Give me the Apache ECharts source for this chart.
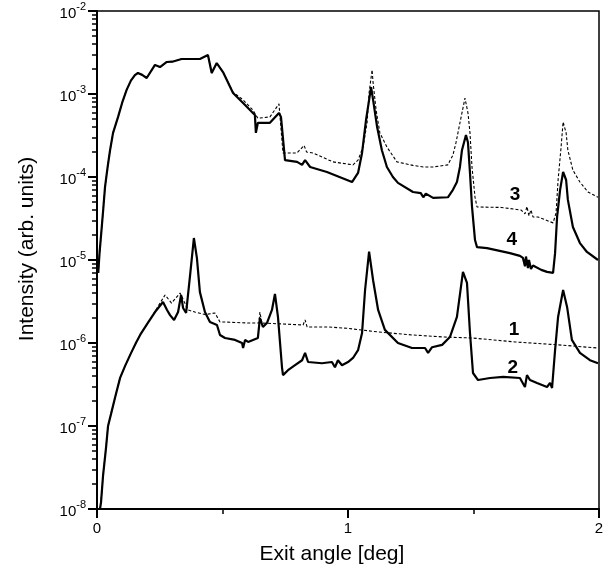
<!DOCTYPE html>
<html>
<head>
<meta charset="utf-8">
<script src="https://cdn.jsdelivr.net/npm/echarts@6/dist/echarts.min.js"></script>
<style>
  html, body { margin: 0; padding: 0; background: #fff; }
  #chart { width: 613px; height: 572px; }
</style>
</head>
<body>
<div id="chart"></div>
<script>
// curves: [exit angle (deg), intensity]
const curve1 = [
  [0.012, 1.0e-8], [0.016, 1.2e-8], [0.024, 2.5e-8], [0.036, 5.5e-8], [0.044, 1.0e-7],
  [0.056, 1.4e-7], [0.072, 2.2e-7], [0.092, 3.8e-7], [0.112, 5.3e-7], [0.135, 7.5e-7],
  [0.155, 1.0e-6], [0.175, 1.3e-6], [0.2, 1.7e-6], [0.231, 2.4e-6], [0.271, 3.79e-6],
  [0.297, 3.03e-6], [0.331, 4.0e-6], [0.363, 2.5e-6], [0.39, 2.36e-6], [0.43, 2.2e-6],
  [0.47, 2.3e-6], [0.49, 1.79e-6], [0.51, 1.79e-6], [0.602, 1.74e-6], [0.645, 1.74e-6],
  [0.649, 2.36e-6], [0.657, 1.74e-6], [0.821, 1.65e-6], [0.829, 1.9e-6], [0.837, 1.56e-6],
  [0.92, 1.56e-6], [1.0, 1.5e-6], [1.12, 1.36e-6], [1.255, 1.25e-6], [1.386, 1.18e-6],
  [1.494, 1.15e-6], [1.665, 1.03e-6], [1.837, 9.5e-7], [1.996, 8.7e-7]
];

const curve2 = [
  [0.012, 1.0e-8], [0.016, 1.2e-8], [0.024, 2.5e-8], [0.036, 5.5e-8], [0.044, 1.0e-7],
  [0.056, 1.4e-7], [0.072, 2.2e-7], [0.092, 3.8e-7], [0.112, 5.3e-7], [0.135, 7.5e-7],
  [0.155, 1.0e-6], [0.175, 1.3e-6], [0.2, 1.7e-6], [0.231, 2.36e-6], [0.263, 3.12e-6],
  [0.279, 2.5e-6], [0.291, 2.17e-6], [0.307, 1.89e-6], [0.323, 2.36e-6], [0.335, 3.79e-6],
  [0.343, 2.64e-6], [0.355, 2.3e-6], [0.371, 6.6e-6], [0.386, 1.84e-5], [0.398, 1.06e-5],
  [0.41, 4.1e-6], [0.43, 2.36e-6], [0.45, 1.79e-6], [0.478, 1.65e-6], [0.49, 1.25e-6],
  [0.51, 1.15e-6], [0.55, 1.09e-6], [0.578, 1.0e-6], [0.582, 8.7e-7], [0.59, 1.09e-6],
  [0.602, 1.03e-6], [0.641, 1.15e-6], [0.649, 2.0e-6], [0.661, 1.56e-6], [0.677, 1.74e-6],
  [0.697, 2.5e-6], [0.709, 3.9e-6], [0.721, 2.06e-6], [0.737, 5.1e-7], [0.741, 4.1e-7],
  [0.761, 4.7e-7], [0.789, 5.4e-7], [0.817, 6.2e-7], [0.829, 7.6e-7], [0.841, 5.9e-7],
  [0.896, 5.7e-7], [0.936, 5.9e-7], [0.948, 5.1e-7], [0.96, 6.2e-7], [0.976, 5.4e-7],
  [1.0, 5.9e-7], [1.02, 6.6e-7], [1.04, 8.2e-7], [1.056, 1.32e-6], [1.068, 4.35e-6],
  [1.084, 1.26e-5], [1.1, 5.7e-6], [1.12, 2.5e-6], [1.147, 1.44e-6], [1.199, 1.0e-6],
  [1.255, 8.7e-7], [1.307, 8.7e-7], [1.319, 7.6e-7], [1.335, 8.9e-7], [1.375, 9.5e-7],
  [1.406, 1.18e-6], [1.434, 2.06e-6], [1.458, 7.2e-6], [1.474, 5.3e-6], [1.486, 1.32e-6],
  [1.498, 4.35e-7], [1.518, 3.58e-7], [1.566, 3.79e-7], [1.618, 3.9e-7], [1.685, 3.79e-7],
  [1.705, 2.95e-7], [1.713, 4.1e-7], [1.725, 3.58e-7], [1.753, 3.3e-7], [1.793, 2.95e-7],
  [1.805, 3.3e-7], [1.813, 2.87e-7], [1.825, 8.2e-7], [1.837, 2.06e-6], [1.857, 4.35e-6],
  [1.873, 2.7e-6], [1.892, 1.09e-6], [1.924, 7.6e-7], [1.964, 6.2e-7], [1.996, 5.7e-7]
];

const curve3 = [
  [0.005, 7.0e-6], [0.01, 1.2e-5], [0.019, 2.5e-5], [0.026, 4.5e-5], [0.032, 7.6e-5],
  [0.042, 1.3e-4], [0.052, 2.1e-4], [0.064, 3.4e-4], [0.084, 5.3e-4], [0.1, 7.8e-4],
  [0.118, 1.12e-3], [0.135, 1.45e-3], [0.151, 1.69e-3], [0.163, 1.79e-3], [0.18, 1.7e-3],
  [0.198, 1.56e-3], [0.231, 2.24e-3], [0.251, 2.11e-3], [0.278, 2.43e-3], [0.3, 2.45e-3],
  [0.337, 2.64e-3], [0.41, 2.64e-3], [0.442, 2.95e-3], [0.457, 1.79e-3], [0.477, 2.36e-3],
  [0.502, 1.84e-3], [0.542, 1.05e-3], [0.582, 8.5e-4], [0.621, 6.4e-4], [0.641, 5.1e-4],
  [0.689, 5.3e-4], [0.725, 7.6e-4], [0.741, 1.95e-4], [0.797, 1.95e-4], [0.825, 2.4e-4],
  [0.835, 2.0e-4], [0.86, 1.95e-4], [0.94, 1.52e-4], [1.02, 1.4e-4], [1.04, 1.6e-4],
  [1.06, 2.3e-4], [1.076, 4.5e-4], [1.084, 1.03e-3], [1.096, 1.95e-3], [1.1, 1.36e-3],
  [1.112, 6.4e-4], [1.127, 3.4e-4], [1.155, 2.3e-4], [1.195, 1.52e-4], [1.259, 1.38e-4],
  [1.3, 1.32e-4], [1.339, 1.32e-4], [1.398, 1.4e-4], [1.418, 1.84e-4], [1.43, 2.57e-4],
  [1.446, 4.5e-4], [1.466, 8.9e-4], [1.478, 5.9e-4], [1.486, 3.4e-4], [1.494, 1.32e-4],
  [1.506, 5.7e-5], [1.514, 4.35e-5], [1.61, 4.3e-5], [1.69, 4.0e-5], [1.705, 3.6e-5],
  [1.713, 4.4e-5], [1.721, 3.4e-5], [1.729, 4.0e-5], [1.737, 3.3e-5], [1.757, 3.3e-5],
  [1.817, 2.8e-5], [1.829, 3.7e-5], [1.837, 9.2e-5], [1.849, 2.3e-4], [1.857, 4.6e-4],
  [1.869, 3.4e-4], [1.876, 2.1e-4], [1.896, 1.21e-4], [1.924, 8.7e-5], [1.956, 6.6e-5],
  [1.996, 5.7e-5]
];

const curve4 = [
  [0.005, 7.0e-6], [0.01, 1.2e-5], [0.019, 2.5e-5], [0.026, 4.5e-5], [0.032, 7.6e-5],
  [0.042, 1.3e-4], [0.052, 2.1e-4], [0.064, 3.4e-4], [0.084, 5.3e-4], [0.1, 7.8e-4],
  [0.118, 1.12e-3], [0.135, 1.45e-3], [0.151, 1.69e-3], [0.163, 1.79e-3], [0.18, 1.7e-3],
  [0.198, 1.56e-3], [0.231, 2.24e-3], [0.251, 2.11e-3], [0.278, 2.43e-3], [0.3, 2.45e-3],
  [0.337, 2.64e-3], [0.41, 2.64e-3], [0.442, 2.95e-3], [0.457, 1.79e-3], [0.477, 2.36e-3],
  [0.502, 1.84e-3], [0.542, 1.03e-3], [0.582, 7.8e-4], [0.629, 5.6e-4], [0.633, 3.4e-4],
  [0.641, 4.5e-4], [0.689, 4.5e-4], [0.725, 5.9e-4], [0.733, 5.3e-4], [0.749, 1.6e-4],
  [0.797, 1.52e-4], [0.817, 1.4e-4], [0.829, 1.6e-4], [0.849, 1.32e-4], [0.916, 1.15e-4],
  [0.996, 9.2e-5], [1.016, 8.7e-5], [1.04, 1.12e-4], [1.056, 1.95e-4], [1.072, 4.9e-4],
  [1.092, 1.21e-3], [1.1, 8.5e-4], [1.116, 4.0e-4], [1.135, 2.1e-4], [1.155, 1.32e-4],
  [1.179, 1.0e-4], [1.199, 8.5e-5], [1.259, 6.6e-5], [1.29, 6.4e-5], [1.3, 5.7e-5],
  [1.31, 6.3e-5], [1.339, 5.6e-5], [1.398, 5.7e-5], [1.418, 7.0e-5], [1.434, 8.7e-5],
  [1.446, 1.32e-4], [1.454, 2.1e-4], [1.47, 3.2e-4], [1.478, 2.6e-4], [1.486, 1.12e-4],
  [1.494, 4.4e-5], [1.506, 1.74e-5], [1.514, 1.43e-5], [1.554, 1.39e-5], [1.645, 1.21e-5],
  [1.685, 1.12e-5], [1.697, 1.06e-5], [1.705, 8.4e-6], [1.709, 1.1e-5], [1.717, 8.0e-6],
  [1.721, 1.0e-5], [1.729, 7.8e-6], [1.737, 8.6e-6], [1.77, 7.6e-6], [1.793, 7.2e-6],
  [1.817, 7.0e-6], [1.825, 1.21e-5], [1.833, 3.3e-5], [1.845, 7.0e-5], [1.857, 1.15e-4],
  [1.869, 9.2e-5], [1.876, 5.3e-5], [1.896, 2.5e-5], [1.924, 1.6e-5], [1.952, 1.25e-5],
  [1.996, 1.0e-5]
];

// curve number annotations [x, y, text]
const curveLabels = [
  [1.661, 1.44e-6, '1'],
  [1.657, 5.1e-7, '2'],
  [1.665, 6.1e-5, '3'],
  [1.653, 1.74e-5, '4']
];

// log axis minor ticks: 2..9 within each decade (as exponents for the helper axis)
const decades = [-8, -7, -6, -5, -4, -3];
const minorSteps = [2, 3, 4, 5, 6, 7, 8, 9];
const minorTickExps = [];
decades.forEach(d => minorSteps.forEach(m => minorTickExps.push(d + Math.log10(m))));

const FONT = 'Liberation Sans, Arial, sans-serif';

const chart = echarts.init(document.getElementById('chart'), null, { renderer: 'canvas' });

const solid = { color: '#000', width: 2.2, type: 'solid' };
const dashed = { color: '#000', width: 1.1, type: [3, 2] };

chart.setOption({
  animation: false,
  backgroundColor: '#fff',
  grid: {
    left: 97, right: 14, top: 11, bottom: 63,
    show: true, borderColor: '#000', borderWidth: 1.5, backgroundColor: 'transparent'
  },
  xAxis: {
    type: 'value', min: 0, max: 2, interval: 1,
    axisLine: { show: true, lineStyle: { color: '#000', width: 2 } },
    axisTick: { show: true, length: 9, lineStyle: { color: '#000', width: 2 } },
    minorTick: { show: true, splitNumber: 2, length: 5, lineStyle: { color: '#000', width: 1.5 } },
    axisLabel: { color: '#000', fontSize: 15, fontFamily: FONT, margin: 12 },
    splitLine: { show: false },
    minorSplitLine: { show: false }
  },
  yAxis: [
    {
      type: 'log', logBase: 10, min: 1e-8, max: 1e-2, interval: 1,
      axisLine: { show: true, lineStyle: { color: '#000', width: 2 } },
      axisTick: { show: true, length: 9, lineStyle: { color: '#000', width: 2 } },
      axisLabel: {
        margin: 11,
        formatter: v => '{b|10}{s|' + Math.round(Math.log10(v)) + '}',
        rich: {
          b: { fontSize: 15, fontFamily: FONT, color: '#000', lineHeight: 20, verticalAlign: 'bottom' },
          s: { fontSize: 11, fontFamily: FONT, color: '#000', lineHeight: 11, verticalAlign: 'top' }
        }
      },
      splitLine: { show: false }
    },
    {
      // helper axis in exponent space, only to carry the 2..9 minor ticks
      type: 'value', min: -8, max: -2, interval: 1, position: 'left',
      axisLine: { show: false },
      axisTick: { show: true, length: 5, customValues: minorTickExps, lineStyle: { color: '#000', width: 1.5 } },
      axisLabel: { show: false },
      splitLine: { show: false }
    }
  ],
  series: [
    { name: '3', type: 'line', data: curve3, showSymbol: false, lineStyle: dashed, z: 2 },
    { name: '1', type: 'line', data: curve1, showSymbol: false, lineStyle: dashed, z: 2 },
    { name: '4', type: 'line', data: curve4, showSymbol: false, lineStyle: solid, z: 3 },
    { name: '2', type: 'line', data: curve2, showSymbol: false, lineStyle: solid, z: 3 }
  ]
});

// titles and curve numbers, placed through the axis scales
const toPx = (x, y) => chart.convertToPixel({ xAxisIndex: 0, yAxisIndex: 0 }, [x, y]);
const graphics = [
  {
    type: 'text', x: 332, y: 554, z: 10,
    style: { text: 'Exit angle [deg]', font: '21px ' + FONT, fill: '#000', align: 'center', verticalAlign: 'middle' }
  },
  {
    type: 'text', x: 27, y: 249, rotation: Math.PI / 2, z: 10,
    style: { text: 'Intensity (arb. units)', font: '21px ' + FONT, fill: '#000', align: 'center', verticalAlign: 'middle' }
  }
];
curveLabels.forEach(([x, y, t]) => {
  const p = toPx(x, y);
  if (!p) return;
  graphics.push({
    type: 'text', x: p[0], y: p[1], z: 10,
    style: { text: t, font: 'bold 19px ' + FONT, fill: '#000', align: 'center', verticalAlign: 'middle' }
  });
});
chart.setOption({ graphic: graphics });
</script>
</body>
</html>
